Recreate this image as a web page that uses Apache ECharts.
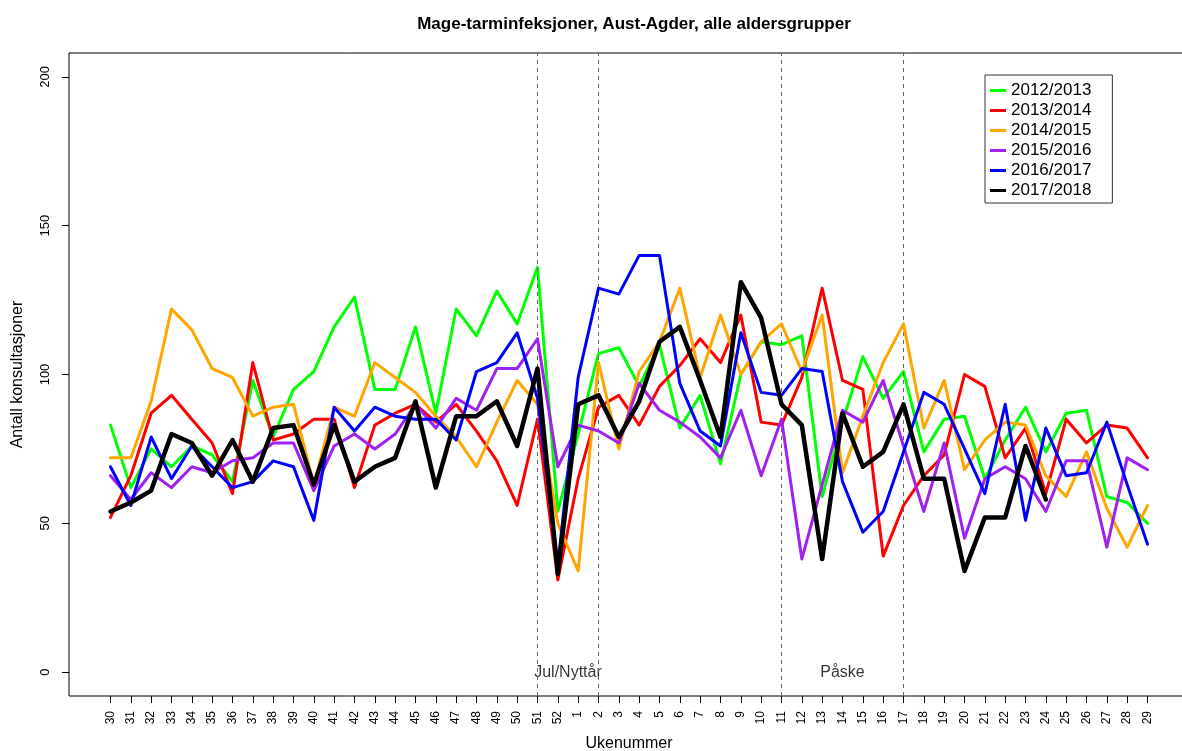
<!DOCTYPE html>
<html><head><meta charset="utf-8">
<script src="https://cdn.jsdelivr.net/npm/echarts@6/dist/echarts.min.js"></script>
<style>html,body{margin:0;padding:0;background:#fff}#c{width:1182px;height:751px}</style>
</head><body><div id="c"></div>
<script>
// Week labels (season runs from week 30 to week 29)
const weeks = ['30','31','32','33','34','35','36','37','38','39','40','41','42','43','44','45','46','47','48','49','50','51','52',
               '1','2','3','4','5','6','7','8','9','10','11','12','13','14','15','16','17','18','19','20','21','22','23','24','25','26','27','28','29'];
const yTicks = [0, 50, 100, 150, 200];

const seriesNames = ['2012/2013','2013/2014','2014/2015','2015/2016','2016/2017','2017/2018'];
const s2012 = [83,62,75,69,76,73,64,98,79,95, 101,116,126,95,95,116,87,122,113,128, 117,136,54,
               80,107,109,96,110,82,93,70,100,111, 110,113,59,84,106,92,101,74,85,86, 65,78,89,74,87,88,59,57,50];
const s2013 = [52,66,87,93,85,77,60,104,78,80, 85,85,62,83,87,90,84,90,81,71, 56,85,31,
               65,89,93,83,96,103,112,104,120,84, 83,99,129,98,95,39,56,66,73,100, 96,72,82,60,85,77,83,82,72];
const s2014 = [72,72,91,122,115,102,99,86,89,90, 63,89,86,104,99,94,86,79,69,84, 98,90,50,
               34,104,75,101,111,129,99,120,100,111, 117,101,120,67,86,104,117,82,98,68, 78,84,83,66,59,74,55,42,56];
const s2015 = [66,58,67,62,69,67,71,72,77,77, 61,76,80,75,80,90,82,92,88,102, 102,112,69,
               83,81,77,97,88,84,79,72,88,66, 85,38,63,88,84,98,76,54,77,45, 65,69,65,54,71,71,42,72,68];
const s2016 = [69,56,79,65,76,69,62,64,71,69, 51,89,81,89,86,85,85,78,101,104, 114,92,36,
               99,129,127,140,140,97,81,76,114,94, 93,102,101,64,47,54,74,94,90,75, 60,90,51,82,66,67,84,63,43];
const s2017 = [54,57,61,80,77,66,78,64,82,83, 63,83,64,69,72,91,62,86,86,91, 76,102,33,
               90,93,79,91,111,116,98,79,131,119, 90,83,38,87,69,74,90,65,65,34, 52,52,76,58];

const seriesColors = ['#00ff00','#ff0000','#ffa500','#a020f0','#0000ff','#000000'];
const seriesWidths = [3,3,3,3,3,4.5];
const seriesValues = [s2012, s2013, s2014, s2015, s2016, s2017];

// Holiday periods (dashed lines at week boundaries, label between them)
const holidayLineWeeks = ['51','2','11','17'];
const holidays = [{name:'Jul/Nyttår', from:'51', to:'2'}, {name:'Påske', from:'11', to:'17'}];

const FONT = "'Liberation Sans', Arial, Helvetica, sans-serif";
const idx = w => weeks.indexOf(w);
const allIdx = weeks.map((w,i)=>i);

const series = seriesValues.map((vals, k) => ({
  name: seriesNames[k],
  type: 'line',
  data: vals.map((v,i)=>[i,v]),
  symbol: 'none',
  showSymbol: false,
  lineStyle: {color: seriesColors[k], width: seriesWidths[k], cap: 'round', join: 'round'},
  itemStyle: {color: seriesColors[k]},
  z: 3 + k,
  animation: false
}));

series.push({
  type: 'scatter',
  name: 'annot',
  silent: true,
  symbolSize: 1,
  itemStyle: {color: 'rgba(0,0,0,0)'},
  data: holidays.map(h => ({name: h.name, value: [(idx(h.from)+idx(h.to))/2, 0]})),
  label: {show: true, formatter: '{b}', position: 'inside', fontSize: 16, color: '#000', fontFamily: FONT},
  markLine: {
    silent: true,
    symbol: ['none','none'],
    label: {show: false},
    lineStyle: {type: [4,4], color: '#666', width: 1},
    data: holidayLineWeeks.map(w => ({xAxis: idx(w)}))
  },
  z: 2,
  animation: false
});

const chart = echarts.init(document.getElementById('c'), null, {renderer: 'canvas'});
chart.setOption({
  animation: false,
  backgroundColor: '#fff',
  textStyle: {fontFamily: FONT},
  title: {
    text: 'Mage-tarminfeksjoner, Aust-Agder, alle aldersgrupper',
    left: 629, top: 11, textAlign: 'center',
    textStyle: {fontSize: 17, fontWeight: 'bold', color: '#000', fontFamily: FONT}
  },
  legend: {
    data: seriesNames,
    orient: 'vertical',
    left: 985, top: 75,
    icon: 'rect',
    itemWidth: 16, itemHeight: 3, itemGap: 3,
    padding: [7, 21, 4, 5],
    borderColor: '#333', borderWidth: 1,
    backgroundColor: '#fff',
    textStyle: {fontSize: 17, color: '#000', fontFamily: FONT},
    selectedMode: false
  },
  grid: {left: 69, right: -7, top: 53, bottom: 55, show: true, borderColor: '#000', borderWidth: 1,
         containLabel: false, outerBoundsMode: 'none'},
  xAxis: {
    type: 'value', min: -2.04, max: 53.04,
    axisLine: {show: false, onZero: false}, splitLine: {show: false},
    axisTick: {show: true, customValues: allIdx, length: 7, lineStyle: {color: '#000'}},
    axisLabel: {customValues: allIdx, formatter: v => weeks[Math.round(v)], rotate: 90, margin: 15,
                fontSize: 12, color: '#000', fontFamily: FONT},
    name: 'Ukenummer', nameLocation: 'middle', nameGap: 40,
    nameTextStyle: {fontSize: 16, color: '#000', fontFamily: FONT}
  },
  yAxis: {
    type: 'value', min: -8, max: 208,
    axisLine: {show: false, onZero: false}, splitLine: {show: false},
    axisTick: {show: true, customValues: yTicks, length: 7, lineStyle: {color: '#000'}},
    axisLabel: {customValues: yTicks, rotate: 90, margin: 17, fontSize: 13, color: '#000', fontFamily: FONT},
    name: 'Antall konsultasjoner', nameLocation: 'middle', nameGap: 43, nameRotate: 90,
    nameTextStyle: {fontSize: 16, color: '#000', fontFamily: FONT}
  },
  series: series
});
</script></body></html>
